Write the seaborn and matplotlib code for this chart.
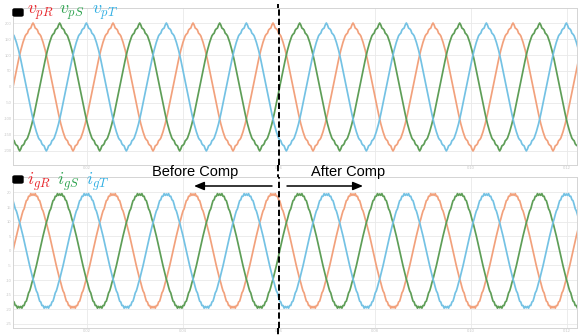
import numpy as np
import pandas as pd
import matplotlib
matplotlib.use("Agg")
import matplotlib.pyplot as plt
import seaborn as sns
from matplotlib.patches import FancyBboxPatch, FancyArrowPatch

# ---------------- data ----------------
FREQ = 60.0                 # Hz (period = 80 px, grid = 20 ms)
T_START, T_END = 0.00458, 0.12208
T_PEAK_R = 0.00875          # first peak of phase R (s)
STEP_DEG = 5                # sample spacing of the shape tables (deg)

# quarter-wave shape of the phase voltage v_p (V), 0..90 deg, step 5 deg
vp_quarter = [200, 194, 184, 182, 178, 168, 165, 160, 150, 140,
              128, 115, 100, 85, 68, 52, 35, 17, 0]
# quarter-wave shape of the grid current i_g (A), 0..90 deg, step 5 deg
ig_quarter = [19.5, 19.0, 19.6, 18.7, 18.7, 17.5, 17.2, 15.9, 14.4, 13.7,
              12.4, 10.9, 9.7, 8.1, 6.6, 5.1, 3.4, 1.8, 0.0]

phases = ["R", "S", "T"]
phase_shift_deg = [0, 120, 240]   # lag of each phase
wave_colors = ["#f2a17c", "#5e9e57", "#74c2e4"]
label_colors = ["#e8262b", "#2ea34f", "#2eaee3"]

v_ticks = [-200, -150, -100, -50, 0, 50, 100, 150, 200]
i_ticks = [-25, -20, -15, -10, -5, 0, 5, 10, 15, 20]
t_ticks = [0.02, 0.04, 0.06, 0.08, 0.10, 0.12]
T_SWITCH = 0.06

# ---------------- build one full period from the quarter tables ----------------
def full_period(q):
    q = list(q)
    half = q[:-1] + [-v for v in q[::-1]][:-1]          # 0..175 deg
    return np.array(half + [-v for v in half])           # 0..355 deg (72 pts)

vp_period = full_period(vp_quarter)
ig_period = full_period(ig_quarter)
n_per = len(vp_period)
dt = 1.0 / FREQ / n_per
k = np.arange(int(np.floor((T_START - T_PEAK_R) / dt)) - 1,
              int(np.ceil((T_END - T_PEAK_R) / dt)) + 2)
t = T_PEAK_R + k * dt

def frame(period):
    rows = []
    for ph, sh in zip(phases, phase_shift_deg):
        idx = (k - sh // STEP_DEG) % n_per
        rows.append(pd.DataFrame({"t": t, "val": period[idx], "phase": ph}))
    return pd.concat(rows, ignore_index=True)

df_v = frame(vp_period)
df_i = frame(ig_period)

# ---------------- figure ----------------
sns.set_style("white")
plt.rcParams["mathtext.fontset"] = "cm"
plt.rcParams["font.family"] = ["Liberation Sans", "DejaVu Sans"]

W, H = 578, 335
fig = plt.figure(figsize=(W / 100, H / 100), dpi=100)
fx = lambda px: px / W
fy = lambda py: 1 - py / H

ax1 = fig.add_axes([fx(13), fy(165), fx(577) - fx(13), (165 - 8) / H])
ax2 = fig.add_axes([fx(13), fy(328), fx(577) - fx(13), (328 - 177) / H])

pal = dict(zip(phases, wave_colors))
dash = (0, (3.2, 1.6))
for ax, df, ylim, yt in [(ax1, df_v, (-244, 247), v_ticks),
                         (ax2, df_i, (-26.4, 25.3), i_ticks)]:
    sns.lineplot(data=df, x="t", y="val", hue="phase", palette=pal,
                 linewidth=1.25, legend=False, ax=ax, estimator=None, sort=False)
    ax.set_xlim(T_START, T_END)
    ax.set_ylim(*ylim)
    ax.set_yticks(yt)
    ax.set_xticks(t_ticks)
    ax.set_yticklabels([str(v) for v in yt])
    ax.tick_params(axis="both", labelsize=3, colors="#c8c8c8", length=0, pad=1)
    ax.grid(True, color="#e9e9e9", linewidth=0.6)
    ax.set_axisbelow(True)
    for s in ax.spines.values():
        s.set_color("#d4d4d4")
        s.set_linewidth(0.7)
    ax.set_xlabel("")
    ax.set_ylabel("")
    ax.axvline(T_SWITCH, color="black", linestyle=dash, linewidth=1.4, zorder=5)

# top panel: the time labels under the annotation texts are hidden by them
ax1.set_xticklabels(["" if v in (0.04, 0.08) else f"{v:.2f}" for v in t_ticks])
ax2.set_xticklabels([f"{v:.2f}" for v in t_ticks])

# dashed line through the gap between the panels and beyond
xs = fx(278)
for y_a, y_b in [(fy(165), fy(177)), (fy(8), fy(4)), (fy(328), 0)]:
    fig.add_artist(plt.Line2D([xs, xs], [y_a, y_b], color="black",
                              linestyle=dash, linewidth=1.4))

# channel icons
for y0 in (9, 176):
    fig.add_artist(FancyBboxPatch((fx(13), fy(y0 + 7)), fx(10), 7 / H,
                                  boxstyle="round,pad=0,rounding_size=0.003",
                                  facecolor="black", edgecolor="black",
                                  transform=fig.transFigure))

# phase labels
top_labels = [r"$v_{pR}$", r"$v_{pS}$", r"$v_{pT}$"]
bot_labels = [r"$i_{gR}$", r"$i_{gS}$", r"$i_{gT}$"]
for lab, x0, c in zip(top_labels, (27, 59, 92), label_colors):
    fig.text(fx(x0), fy(4), lab, color=c, fontsize=13, va="top", ha="left")
for lab, x0, c in zip(bot_labels, (27, 57, 86), label_colors):
    fig.text(fx(x0), fy(171), lab, color=c, fontsize=13, va="top", ha="left")

# annotations
fig.text(fx(195), fy(172), "Before Comp", fontsize=10.5, ha="center",
         va="center", color="black")
fig.text(fx(348), fy(172), "After Comp", fontsize=10.5, ha="center",
         va="center", color="black")
for (xa, xb) in [(272, 194), (287, 363)]:
    fig.add_artist(FancyArrowPatch(
        (fx(xa), fy(186)), (fx(xb), fy(186)), transform=fig.transFigure,
        arrowstyle="-|>,head_length=0.6,head_width=0.25", color="black",
        lw=1.1, shrinkA=0, shrinkB=0, mutation_scale=10))

fig.savefig("out.png", dpi=100, facecolor="white")
